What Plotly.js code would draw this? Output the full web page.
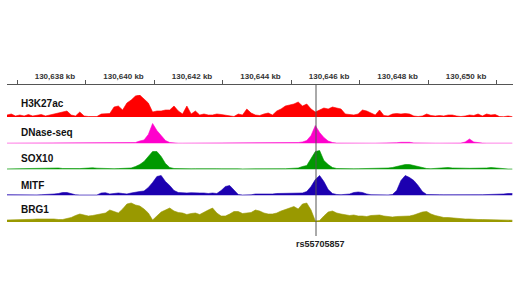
<!DOCTYPE html>
<html>
<head>
<meta charset="utf-8">
<script src="https://cdn.plot.ly/plotly-3.0.1.min.js"></script>
<style>html,body{margin:0;padding:0;background:#fff;}#chart{width:520px;height:292px;}</style>
</head>
<body>
<div id="chart"></div>
<script>
// Genomic bins (kb), bin width 0.125 kb
const BIN_START_KB = 130636.6;
const BIN_KB = 0.125;

const trackNames = ["H3K27ac", "DNase-seq", "SOX10", "MITF", "BRG1"];
const trackColors = ["#ff0000", "#ff00cc", "#009900", "#1c00b0", "#999900"];

const h3k27ac = [2,3,1,2,1,2.5,1,1.5,2.5,1,2,3,4,5,6,2,1,5,1,0.5,0.5,0.5,3,3,3.5,10,11,7,14,17,21,22,18,14,5,6,6,7,7,11,6,3,11,3,6,2,3,2,2,3,2.5,2,1,0.5,3,2,8,4,2,1.5,3,4,2,6,8,11,12,13,15,11,13,8,5,7,9,8,10,9,8,3,2.5,2,3,7,6,4,2,7,1.5,1,3,3.5,3,3.5,3,1,0.5,1,3,1.5,1,1.5,1,2,2,1,0.5,1,2,1.5,3,1,3,2,2.5,0.5,0.3,1,0.3];

const dnase = [0.3,0.3,0.3,0.3,0.3,0.3,0.3,0.3,0.3,0.3,0.3,0.3,0.4,0.3,0.3,0.3,0.3,0.3,0.3,0.8,0.8,0.4,0.8,0.8,0.4,0.3,0.3,0.3,0.3,0.5,1,2.5,3.5,9,20,13,8,3,1,0.4,0.3,0.3,0.3,0.3,0.3,0.3,0.3,0.3,0.3,0.3,0.4,0.8,0.6,0.3,0.3,0.3,0.3,0.6,0.6,0.3,0.3,0.3,0.3,0.3,0.3,0.3,0.4,0.5,1,1.5,3,8,18,11,6,2.5,1,0.4,0.3,0.3,0.3,0.3,0.3,0.3,0.3,0.3,0.3,0.3,0.3,0.4,0.6,0.8,1.2,1.5,1.2,0.6,0.4,0.3,0.3,0.3,0.3,0.3,0.3,0.3,0.3,0.3,0.4,1.5,4.5,1.5,0.6,0.4,0.3,0.3,0.3,0.3,0.3,0.3,0.3];

const sox10 = [0.6,0.7,0.6,0.8,0.7,0.8,0.9,0.8,0.9,1,1.1,1.2,1.5,1,0.8,0.7,0.8,0.9,1.2,1.5,1.7,1.3,1,0.8,0.7,0.8,0.9,1,0.8,1.5,3,5,8,13,18,18,13,6,2,1,0.8,1.2,0.8,0.7,0.8,0.9,1.2,0.8,0.7,0.8,0.7,0.8,1.2,0.8,0.7,0.6,0.7,0.8,0.8,0.7,0.7,0.8,0.8,0.7,0.8,0.8,0.9,1,1.5,3,4,11,18,19,9,5,2,1,0.8,0.7,0.6,0.7,0.8,0.8,0.9,1,1.2,1.2,1,1.5,2,3,4,5,5,4,2.5,1.5,1,0.8,1,1.5,2,2,1.5,1.2,1.2,1.3,1.2,1.2,1.1,1.2,1.5,2,1.5,0.8,0.5,0.5,0.5];

const mitf = [0.8,0.7,0.7,0.8,0.6,0.7,0.8,0.6,0.8,0.9,1.2,1.5,2,3,3,1.5,0.7,0.5,0.5,0.5,0.6,0.5,2.5,2.8,1.5,2,2.5,2,1.5,2.5,3.5,4,4.5,8,13,19,20,14,10,5,3,2.5,2.5,2.8,3,2.5,2.5,2,2.5,2,5,9,10,6,1,0.5,0.5,0.7,1.5,1.5,0.8,1,1.5,2,2,2.2,2,2,2.5,2.5,4,9,16,20,14,6,2,1,0.8,1,1.5,3,3.5,3,1.5,0.8,0.6,0.5,0.5,0.6,1,5,15,20,18,15,10,4,1,0.7,0.8,0.8,0.7,0.8,0.8,0.8,1,1.2,1,1,0.8,0.8,0.8,1,1,1.2,1.5,2,2];

const brg1 = [2,2,2.2,2.5,2.5,2.7,2.7,3,3,3,3.3,3,2.5,2.5,3.5,4.5,6.5,8,7,6,6.5,7.5,8,9,12,10.5,9,13,18,19,17,16,13,9,2,6,10,12,14,11,9.5,9,7.5,8.5,9,7.5,10,12,14,9,6,6,8,10.5,10.5,8.5,9,9.5,12,11,9,8,8,9,11,12.5,14,15.5,13,18,19,12,1,1.5,6,10,11,9,8,7,6.5,7,6,6,5.5,6.5,7,7,6,5.5,5,5.5,5.5,5.5,6,7,8.5,10,10.5,8,6.5,5.5,4.5,4.5,4,3.5,3.5,3,3,2.5,2.5,2.5,2.3,2.2,2,2,1.8,1.8,1.8];

const trackValues = [h3k27ac, dnase, sox10, mitf, brg1];

// Ruler
const labelTicksKb = [130638, 130640, 130642, 130644, 130646, 130648, 130650];
const labelTickText = ["130,638 kb", "130,640 kb", "130,642 kb", "130,644 kb", "130,646 kb", "130,648 kb", "130,650 kb"];
const markTicksKb = [130636.9, 130638.9, 130640.9, 130642.9, 130644.9, 130646.9, 130648.9, 130650.9];
const xRangeKb = [130636.6, 130651.37];

// SNP marker
const snpName = "rs55705857";
const snpKb = 130645.62;

// layout geometry (pixels)
const W = 520, H = 292;
const M = {l: 7, r: 7, t: 84, b: 56};
const plotH = H - M.t - M.b;
const trackBaselinePx = [117, 143.5, 169.5, 195.5, 222];
const trackHeightPx = 22;
const labelCenterPx = [103, 132.5, 158.7, 185, 209.7];

function yFrac(px) { return (H - M.b - px) / plotH; }

const data = [];
const layout = {
  width: W, height: H,
  margin: M,
  paper_bgcolor: "#fff", plot_bgcolor: "#fff",
  showlegend: false,
  font: {family: "Liberation Sans, Arial, sans-serif", color: "#222"},
  xaxis: {
    range: xRangeKb, side: "top", anchor: "free", position: 1,
    showline: true, linecolor: "#555", linewidth: 1,
    ticks: "outside", tickvals: markTicksKb, ticklen: 4, tickcolor: "#555", tickwidth: 1,
    showticklabels: false, showgrid: false, zeroline: false, fixedrange: true
  },
  xaxis2: {
    range: xRangeKb, overlaying: "x", side: "top", anchor: "free", position: 1,
    tickvals: labelTicksKb, ticktext: labelTickText, ticks: "outside", ticklen: 1.5, tickcolor: "rgba(0,0,0,0)",
    showline: false, showgrid: false, zeroline: false,
    tickfont: {size: 8, color: "#333", family: "Liberation Sans, Arial, sans-serif", weight: "bold"}
  },
  shapes: [{
    type: "line", xref: "x", yref: "paper", x0: snpKb, x1: snpKb, y0: 0, y1: 1,
    line: {color: "#555", width: 1}
  }],
  annotations: [{
    xref: "x", yref: "paper", x: snpKb, y: 0, yanchor: "top", xanchor: "center",
    text: snpName, showarrow: false, yshift: -1, xshift: 4,
    font: {size: 9, color: "#222", family: "Liberation Sans, Arial, sans-serif", weight: "bold"}
  }]
};

trackNames.forEach((name, k) => {
  const yName = k === 0 ? "y" : "y" + (k + 1);
  const axName = k === 0 ? "yaxis" : "yaxis" + (k + 1);
  const vals = trackValues[k];
  const xs = vals.map((_, i) => BIN_START_KB + BIN_KB * i);
  data.push({
    type: "scatter", mode: "lines", x: xs, y: vals, xaxis: "x", yaxis: yName,
    fill: "tozeroy", fillcolor: trackColors[k],
    line: {color: trackColors[k], width: 0.6, shape: "linear"},
    hoverinfo: "skip"
  });
  const base = trackBaselinePx[k];
  layout[axName] = {
    domain: [yFrac(base), yFrac(base - trackHeightPx)],
    range: [0, trackHeightPx], visible: false, fixedrange: true,
    anchor: "x"
  };
  layout.annotations.push({
    xref: "paper", yref: "paper", x: 0, xshift: 12, xanchor: "left",
    y: yFrac(labelCenterPx[k]), yanchor: "middle",
    text: name, showarrow: false,
    font: {size: 10, color: "#111", family: "Liberation Sans, Arial, sans-serif", weight: "bold"}
  });
});
// invisible trace to activate xaxis2 tick labels
data.push({type: "scatter", x: [xRangeKb[0]], y: [0], xaxis: "x2", yaxis: "y", mode: "markers",
  marker: {opacity: 0}, hoverinfo: "skip"});

Plotly.newPlot("chart", data, layout, {displayModeBar: false, staticPlot: true});
</script>
</body>
</html>
